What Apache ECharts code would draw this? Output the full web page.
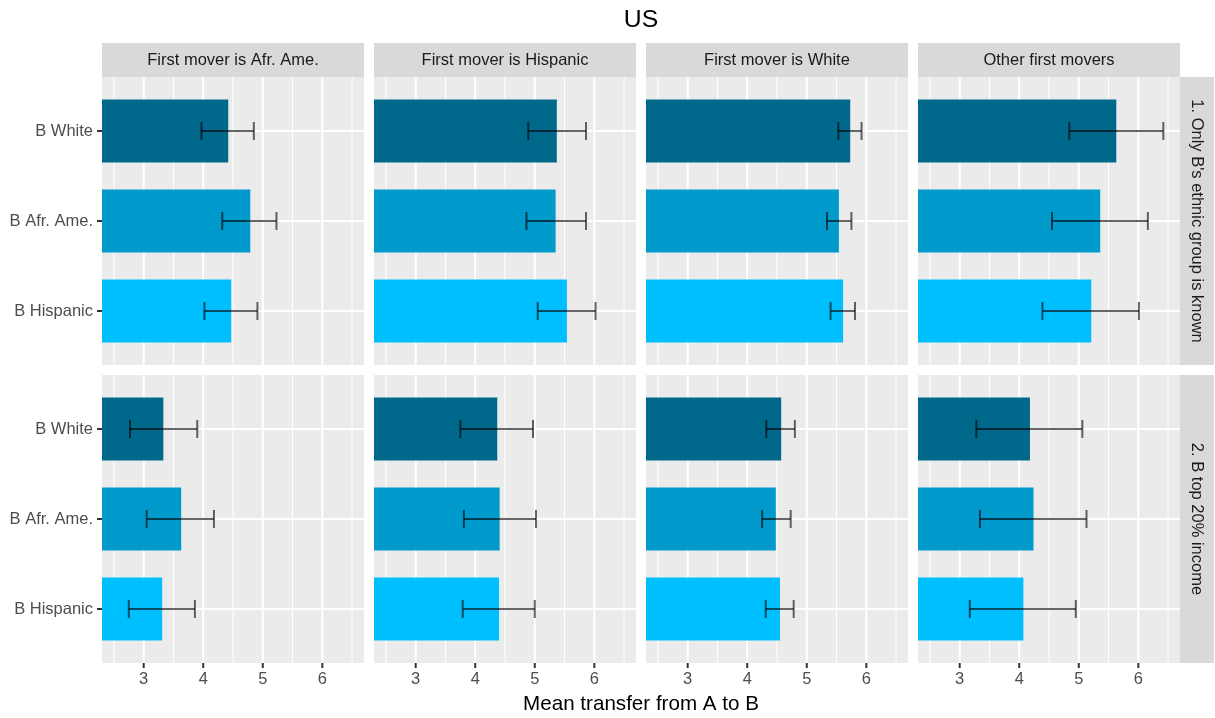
<!DOCTYPE html>
<html><head><meta charset="utf-8">
<script src="https://cdn.jsdelivr.net/npm/echarts@6/dist/echarts.min.js"></script>
<style>html,body{margin:0;padding:0;background:#fff}#c{width:1215px;height:718px}</style>
</head><body><div id="c"></div>
<script>
// ---------------- data ----------------
const chartTitle = 'US';
const xAxisTitle = 'Mean transfer from A to B';
const categories = ['B White', 'B Afr. Ame.', 'B Hispanic'];
const firstMovers = ['First mover is Afr. Ame.', 'First mover is Hispanic', 'First mover is White', 'Other first movers'];
const panelRows = ["1. Only B's ethnic group is known", '2. B top 20% income'];
const xMajorTicks = [3, 4, 5, 6];
const xMinorTicks = [2.5, 3.5, 4.5, 5.5, 6.5];
const yCategoryTicks = [0, 1, 2];
const xLimits = [2.3, 6.7];
const yLimits = [-0.6, 2.6];

// row 1: Only B's ethnic group is known  (per first-mover column, per category)
const meanKnown = [[4.42, 4.79, 4.47], [5.37, 5.35, 5.54], [5.73, 5.54, 5.61], [5.63, 5.36, 5.21]];
const lowKnown  = [[3.97, 4.32, 4.02], [4.89, 4.86, 5.05], [5.53, 5.34, 5.40], [4.84, 4.55, 4.39]];
const highKnown = [[4.85, 5.23, 4.91], [5.86, 5.86, 6.02], [5.92, 5.75, 5.81], [6.42, 6.16, 6.01]];
// row 2: B top 20% income
const meanTop20 = [[3.33, 3.63, 3.31], [4.37, 4.41, 4.40], [4.57, 4.48, 4.55], [4.18, 4.24, 4.07]];
const lowTop20  = [[2.77, 3.05, 2.75], [3.75, 3.81, 3.79], [4.32, 4.25, 4.31], [3.28, 3.34, 3.17]];
const highTop20 = [[3.90, 4.18, 3.86], [4.97, 5.02, 5.00], [4.80, 4.73, 4.78], [5.06, 5.13, 4.95]];

// ---------------- styles / layout ----------------
const barColors = ['#00688B', '#009ACD', '#00BFFF'];
const FONT = "'Liberation Sans', Arial, sans-serif";
const colLeft = [102, 374, 646, 918];
const panelW = 262;
const rowTop = [77, 375];
const panelH = 288;
const stripTop = 43, stripH = 34;
const stripRightX = 1180, stripW = 34;
const tickLen = 5;

const rowMeans = [meanKnown, meanTop20];
const rowLows = [lowKnown, lowTop20];
const rowHighs = [highKnown, highTop20];

const grids = [], xAxes = [], yAxes = [], series = [];

function gridRender(params, api) {
  const cs = params.coordSys;
  const kind = api.value(2);
  if (kind === 2) {
    const y = api.coord([xLimits[0], api.value(1)])[1];
    return { type: 'line', silent: true, shape: { x1: cs.x, y1: y, x2: cs.x + cs.width, y2: y },
      style: { stroke: '#FFFFFF', lineWidth: 2 } };
  }
  const x = api.coord([api.value(0), 0])[0];
  return { type: 'line', silent: true, shape: { x1: x, y1: cs.y, x2: x, y2: cs.y + cs.height },
    style: { stroke: '#FFFFFF', lineWidth: kind === 1 ? 2 : 1 } };
}

function barRender(params, api) {
  const idx = api.value(0), v = api.value(1);
  const cs = params.coordSys;
  const pEnd = api.coord([v, idx]);
  const pBase = api.coord([0, idx]);
  const h = api.size([0, 0.7])[1];
  const x0 = Math.max(pBase[0], cs.x);
  return { type: 'rect', shape: { x: x0, y: pEnd[1] - h / 2, width: pEnd[0] - x0, height: h },
    style: { fill: barColors[idx] } };
}

function errRender(params, api) {
  const idx = api.value(0), lo = api.value(1), hi = api.value(2);
  const pl = api.coord([lo, idx]), ph = api.coord([hi, idx]);
  const cap = api.size([0, 0.2])[1];
  const st = { stroke: 'rgba(0,0,0,0.6)', lineWidth: 2, fill: null };
  return { type: 'group', children: [
    { type: 'line', shape: { x1: pl[0], y1: pl[1], x2: ph[0], y2: ph[1] }, style: st },
    { type: 'line', shape: { x1: pl[0], y1: pl[1] - cap / 2, x2: pl[0], y2: pl[1] + cap / 2 }, style: st },
    { type: 'line', shape: { x1: ph[0], y1: ph[1] - cap / 2, x2: ph[0], y2: ph[1] + cap / 2 }, style: st }
  ] };
}

// tick marks drawn inside thin helper grids that share the panel scales
function xTickRender(params, api) {
  const cs = params.coordSys;
  const x = api.coord([api.value(0), 0.5])[0];
  return { type: 'line', silent: true, shape: { x1: x, y1: cs.y, x2: x, y2: cs.y + cs.height },
    style: { stroke: '#333333', lineWidth: 2 } };
}
function yTickRender(params, api) {
  const cs = params.coordSys;
  const y = api.coord([0.5, api.value(1)])[1];
  return { type: 'line', silent: true, shape: { x1: cs.x, y1: y, x2: cs.x + cs.width, y2: y },
    style: { stroke: '#333333', lineWidth: 2 } };
}

let k = 0;
for (let r = 0; r < panelRows.length; r++) {
  for (let c = 0; c < firstMovers.length; c++) {
    const bottomRow = r === panelRows.length - 1;
    const leftCol = c === 0;
    grids.push({ left: colLeft[c], top: rowTop[r], width: panelW, height: panelH,
      show: true, backgroundColor: '#EBEBEB', borderWidth: 0, containLabel: false });
    xAxes.push({
      gridIndex: k, type: 'value', position: 'bottom', min: xLimits[0], max: xLimits[1], splitNumber: 4,
      splitLine: { show: false }, axisLine: { show: false, onZero: false },
      axisTick: { show: false },
      axisLabel: { show: bottomRow, customValues: xMajorTicks, color: '#4D4D4D',
        fontSize: 16.5, fontFamily: FONT, margin: 8,
        formatter: v => String(v) }
    });
    yAxes.push({
      gridIndex: k, type: 'value', position: 'left', inverse: true, min: yLimits[0], max: yLimits[1],
      splitLine: { show: false }, axisLine: { show: false, onZero: false },
      axisTick: { show: false },
      axisLabel: { show: leftCol, customValues: yCategoryTicks, color: '#4D4D4D',
        fontSize: 16.5, fontFamily: FONT, margin: 9,
        formatter: v => categories[Math.round(v)] || '' }
    });
    const gridData = [].concat(
      xMinorTicks.map(v => [v, 0, 0]),
      xMajorTicks.map(v => [v, 0, 1]),
      yCategoryTicks.map(v => [0, v, 2])
    );
    series.push({ type: 'custom', xAxisIndex: k, yAxisIndex: k, z: 1, silent: true,
      renderItem: gridRender, data: gridData, animation: false });
    series.push({ type: 'custom', xAxisIndex: k, yAxisIndex: k, z: 2, silent: true,
      renderItem: barRender, animation: false,
      data: categories.map((_, i) => [i, rowMeans[r][c][i]]) });
    series.push({ type: 'custom', xAxisIndex: k, yAxisIndex: k, z: 3, silent: true,
      renderItem: errRender, animation: false,
      data: categories.map((_, i) => [i, rowLows[r][c][i], rowHighs[r][c][i]]) });
    k++;
  }
}

// helper grids for x tick marks under the bottom row
for (let c = 0; c < firstMovers.length; c++) {
  grids.push({ left: colLeft[c], top: rowTop[panelRows.length - 1] + panelH, width: panelW, height: tickLen,
    show: false, containLabel: false });
  xAxes.push({ gridIndex: k, type: 'value', show: false, min: xLimits[0], max: xLimits[1],
    axisLine: { onZero: false } });
  yAxes.push({ gridIndex: k, type: 'value', show: false, min: 0, max: 1, axisLine: { onZero: false } });
  series.push({ type: 'custom', xAxisIndex: k, yAxisIndex: k, z: 3, silent: true, animation: false,
    renderItem: xTickRender, data: xMajorTicks.map(v => [v, 0.5]) });
  k++;
}
// helper grids for y tick marks left of the first column
for (let r = 0; r < panelRows.length; r++) {
  grids.push({ left: colLeft[0] - tickLen, top: rowTop[r], width: tickLen, height: panelH,
    show: false, containLabel: false });
  xAxes.push({ gridIndex: k, type: 'value', show: false, min: 0, max: 1, axisLine: { onZero: false } });
  yAxes.push({ gridIndex: k, type: 'value', show: false, inverse: true, min: yLimits[0], max: yLimits[1],
    axisLine: { onZero: false } });
  series.push({ type: 'custom', xAxisIndex: k, yAxisIndex: k, z: 3, silent: true, animation: false,
    renderItem: yTickRender, data: yCategoryTicks.map(v => [0.5, v]) });
  k++;
}

const graphics = [];
// top strips
firstMovers.forEach((name, c) => {
  graphics.push({ type: 'rect', silent: true, shape: { x: colLeft[c], y: stripTop, width: panelW, height: stripH },
    style: { fill: '#D9D9D9' } });
  graphics.push({ type: 'text', silent: true, x: colLeft[c] + panelW / 2, y: stripTop + stripH / 2 + 0.5,
    style: { text: name, fill: '#1A1A1A', font: '16.5px ' + FONT, align: 'center', verticalAlign: 'middle' } });
});
// right strips
panelRows.forEach((name, r) => {
  graphics.push({ type: 'rect', silent: true, shape: { x: stripRightX, y: rowTop[r], width: stripW, height: panelH },
    style: { fill: '#D9D9D9' } });
  graphics.push({ type: 'text', silent: true, x: stripRightX + stripW / 2, y: rowTop[r] + panelH / 2,
    rotation: -Math.PI / 2,
    style: { text: name, fill: '#1A1A1A', font: '16.5px ' + FONT, align: 'center', verticalAlign: 'middle' } });
});
const plotCenterX = (colLeft[0] + colLeft[3] + panelW) / 2;
graphics.push({ type: 'text', silent: true, x: plotCenterX, y: 20,
  style: { text: chartTitle, fill: '#000000', font: '24.75px ' + FONT, align: 'center', verticalAlign: 'middle' } });
graphics.push({ type: 'text', silent: true, x: plotCenterX, y: 704,
  style: { text: xAxisTitle, fill: '#000000', font: '20.6px ' + FONT, align: 'center', verticalAlign: 'middle' } });

const chart = echarts.init(document.getElementById('c'), null, { renderer: 'canvas' });
chart.setOption({
  animation: false,
  backgroundColor: '#FFFFFF',
  grid: grids, xAxis: xAxes, yAxis: yAxes, series: series,
  graphic: graphics
});
</script></body></html>
